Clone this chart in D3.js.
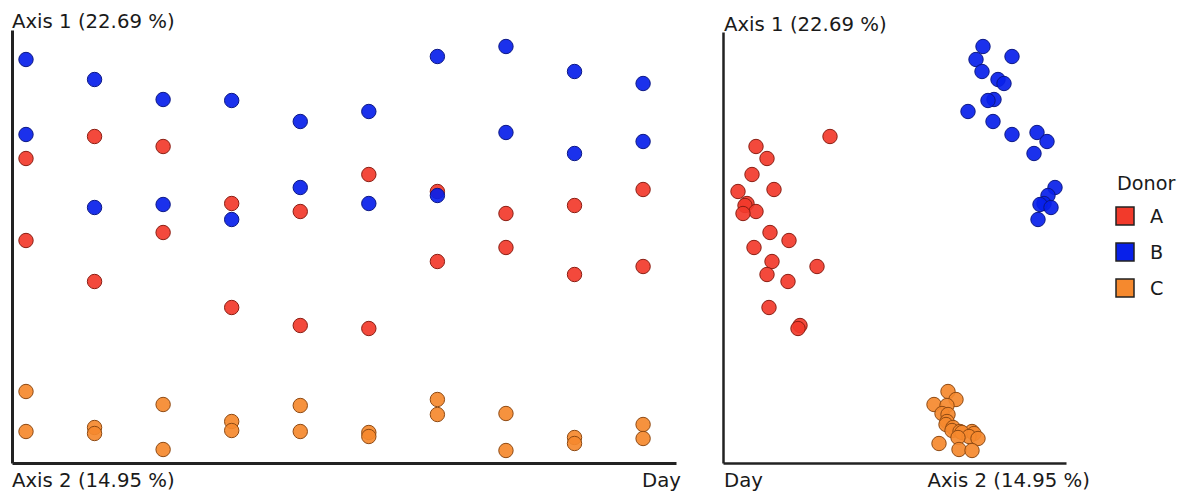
<!DOCTYPE html>
<html>
<head>
<meta charset="utf-8">
<script src="https://cdn.jsdelivr.net/npm/d3@7"></script>
<style>
  html, body { margin: 0; padding: 0; background: #ffffff; }
  svg { display: block; }
  text { font-family: "DejaVu Sans", sans-serif; fill: #1a1a1a; }
</style>
</head>
<body>
<svg id="chart" width="1185" height="492"></svg>
<script>
// Sampling days and donors
const days = [1, 2, 3, 4, 5, 6, 7, 8, 9, 10];
const donors = ["A", "B", "C"];
const donorColors = ["#f23a2b", "#0820ea", "#f5892e"];
const donorStrokes = ["#8a1d12", "#0b1785", "#8e4912"];

// Donor A samples: day, PCoA axis 1 score, PCoA axis 2 score
const dayA = [2, 3, 1, 6, 10, 7, 4, 9, 5, 8, 3, 1, 8, 7, 10, 9, 2, 4, 5, 6];
const axis1A = [0.113, 0.103, 0.091, 0.075, 0.060, 0.058, 0.046, 0.044, 0.038, 0.036,
                0.017, 0.009, 0.002, -0.012, -0.017, -0.025, -0.032, -0.058, -0.076, -0.079];
const axis2A = [-0.070, -0.144, -0.133, -0.148, -0.126, -0.162, -0.153, -0.155, -0.144, -0.157,
                -0.130, -0.111, -0.146, -0.128, -0.083, -0.133, -0.112, -0.131, -0.100, -0.102];

// Donor B samples
const dayB = [8, 7, 1, 9, 2, 10, 3, 4, 6, 5, 8, 1, 10, 9, 5, 7, 6, 3, 2, 4];
const axis1B = [0.203, 0.193, 0.190, 0.178, 0.170, 0.166, 0.150, 0.149, 0.138, 0.128,
                0.117, 0.115, 0.108, 0.096, 0.062, 0.054, 0.046, 0.045, 0.042, 0.030];
const axis2B = [0.083, 0.112, 0.076, 0.082, 0.098, 0.104, 0.094, 0.088, 0.068, 0.093,
                0.137, 0.112, 0.147, 0.134, 0.155, 0.148, 0.144, 0.140, 0.151, 0.138];

// Donor C samples
const dayC = [1, 7, 3, 5, 8, 7, 4, 10, 2, 4, 1, 5, 6, 2, 6, 9, 10, 9, 3, 8];
const axis1C = [-0.142, -0.150, -0.155, -0.156, -0.164, -0.165, -0.172, -0.175, -0.178, -0.181,
                -0.182, -0.182, -0.183, -0.184, -0.187, -0.188, -0.189, -0.194, -0.200, -0.201];
const axis2C = [0.048, 0.056, 0.034, 0.047, 0.042, 0.048, 0.047, 0.046, 0.053, 0.052,
                0.072, 0.060, 0.062, 0.074, 0.069, 0.058, 0.078, 0.039, 0.059, 0.072];

const axis1Label = "Axis 1 (22.69 %)";
const axis2Label = "Axis 2 (14.95 %)";
const dayLabel = "Day";
const legendTitle = "Donor";

// Flatten into sample records
const groups = [
  { donor: "A", day: dayA, a1: axis1A, a2: axis2A },
  { donor: "B", day: dayB, a1: axis1B, a2: axis2B },
  { donor: "C", day: dayC, a1: axis1C, a2: axis2C }
];
const samples = groups.flatMap(g => g.day.map((d, i) => ({
  donor: g.donor, day: d, axis1: g.a1[i], axis2: g.a2[i]
})));

const color = d3.scaleOrdinal().domain(donors).range(donorColors);
const stroke = d3.scaleOrdinal().domain(donors).range(donorStrokes);

const svg = d3.select("#chart");
const R = 7.2;
const FS = 19.7;

// ---- Left panel: axis 1 over time ----
const xDay = d3.scaleLinear().domain([0.796, 10.48]).range([12, 676]);
const yLeft = d3.scaleLinear().domain([-0.2135, 0.2195]).range([463, 30]);

const left = svg.append("g");

left.append("g")
  .attr("transform", `translate(0,${yLeft.range()[0]})`)
  .call(d3.axisBottom(xDay).ticks(0).tickSizeOuter(0))
  .call(g => g.select(".domain").attr("stroke", "#222").attr("stroke-width", 3));

left.append("g")
  .attr("transform", `translate(${xDay.range()[0]},0)`)
  .call(d3.axisLeft(yLeft).ticks(0).tickSizeOuter(0))
  .call(g => g.select(".domain").attr("stroke", "#222").attr("stroke-width", 3));

left.append("g").selectAll("circle")
  .data(samples)
  .join("circle")
  .attr("cx", d => xDay(d.day))
  .attr("cy", d => yLeft(d.axis1))
  .attr("r", R)
  .attr("fill", d => color(d.donor))
  .attr("fill-opacity", 0.92)
  .attr("stroke", d => stroke(d.donor))
  .attr("stroke-width", 1);

left.append("text").attr("x", 12).attr("y", 28)
  .attr("font-size", FS).text(axis1Label);
left.append("text").attr("x", 12).attr("y", 487)
  .attr("font-size", FS).text(axis2Label);
left.append("text").attr("x", 642).attr("y", 487)
  .attr("font-size", FS).text(dayLabel);

// ---- Right panel: axis 2 vs axis 1 ----
const xAx2 = d3.scaleLinear().domain([-0.177, 0.166]).range([723, 1066]);
const yRight = d3.scaleLinear().domain([-0.2135, 0.2175]).range([463, 32]);

const right = svg.append("g");

right.append("g")
  .attr("transform", `translate(0,${yRight.range()[0]})`)
  .call(d3.axisBottom(xAx2).ticks(0).tickSizeOuter(0))
  .call(g => g.select(".domain").attr("stroke", "#222").attr("stroke-width", 2.5));

right.append("g")
  .attr("transform", `translate(${xAx2.range()[0]},0)`)
  .call(d3.axisLeft(yRight).ticks(0).tickSizeOuter(0))
  .call(g => g.select(".domain").attr("stroke", "#222").attr("stroke-width", 2.5));

right.append("g").selectAll("circle")
  .data(samples)
  .join("circle")
  .attr("cx", d => xAx2(d.axis2))
  .attr("cy", d => yRight(d.axis1))
  .attr("r", R)
  .attr("fill", d => color(d.donor))
  .attr("fill-opacity", 0.92)
  .attr("stroke", d => stroke(d.donor))
  .attr("stroke-width", 1);

right.append("text").attr("x", 724).attr("y", 31)
  .attr("font-size", FS).text(axis1Label);
right.append("text").attr("x", 724).attr("y", 487)
  .attr("font-size", FS).text(dayLabel);
right.append("text").attr("x", 1090).attr("y", 487)
  .attr("text-anchor", "end")
  .attr("font-size", FS).text(axis2Label);

// ---- Legend ----
const legend = svg.append("g").attr("transform", "translate(1116,0)");
legend.append("text").attr("x", 1).attr("y", 190)
  .attr("font-size", 19.2).text(legendTitle);
const item = legend.selectAll("g.item")
  .data(donors)
  .join("g")
  .attr("class", "item")
  .attr("transform", (d, i) => `translate(0,${207 + i * 36})`);
item.append("rect")
  .attr("width", 18).attr("height", 18)
  .attr("fill", d => color(d))
  .attr("stroke", "#222")
  .attr("stroke-width", 1.5);
item.append("text")
  .attr("x", 34).attr("y", 16)
  .attr("font-size", 19.2)
  .text(d => d);
</script>
</body>
</html>
